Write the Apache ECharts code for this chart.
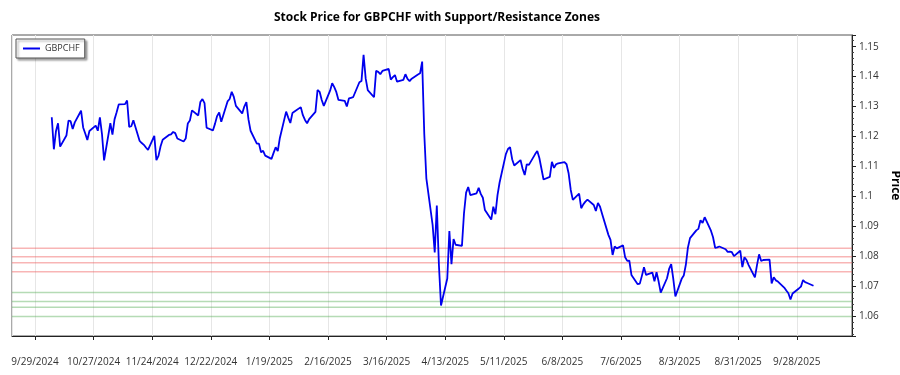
<!DOCTYPE html>
<html><head><meta charset="utf-8">
<script src="https://cdn.jsdelivr.net/npm/echarts@6/dist/echarts.min.js"></script>
<style>html,body{margin:0;padding:0;background:#fff}#c{width:900px;height:375px}</style>
</head><body><div id="c"></div>
<script>
const chartTitle = 'Stock Price for GBPCHF with Support/Resistance Zones';
const seriesName = 'GBPCHF';
const yAxisName = 'Price';
// trading days (Mon-Fri) from startDate to endDate
const startDate = '2024-10-07';
const endDate = '2025-10-06';
// x tick labels every 28 days from this date
const tickBaseDate = '2024-09-29';
const tickStepDays = 28;
const axisStartDays = -11.0;   // days before tickBaseDate at the left edge
const axisEndDays = 390.4;     // days after tickBaseDate at the right edge
const yMin = 1.0533, yMax = 1.1539, yStep = 0.01;

const prices = [
  1.1264,1.1157,1.1217,1.1244,1.1166,
  1.1203,1.1253,1.1251,1.1225,1.1247,
  1.1286,1.1230,1.1210,1.1188,1.1218,
  1.1236,1.1219,1.1264,1.1208,1.1120,
  1.1244,1.1206,1.1257,1.1281,1.1307,
  1.1308,1.1320,1.1232,1.1234,1.1254,
  1.1185,1.1178,1.1172,1.1163,1.1155,
  1.1202,1.1121,1.1135,1.1167,1.1189,
  1.1205,1.1207,1.1215,1.1211,1.1193,
  1.1183,1.1193,1.1243,1.1253,1.1287,
  1.1270,1.1315,1.1325,1.1311,1.1229,
  1.1220,1.1242,1.1268,1.1280,1.1249,
  1.1317,1.1325,1.1349,1.1332,1.1302,
  1.1277,1.1300,1.1315,1.1257,1.1219,
  1.1176,1.1176,1.1147,1.1152,1.1136,
  1.1125,1.1145,1.1164,1.1151,1.1195,
  1.1283,1.1263,1.1245,1.1278,1.1283,
  1.1298,1.1271,1.1255,1.1244,1.1258,
  1.1282,1.1355,1.1349,1.1322,1.1302,
  1.1353,1.1378,1.1365,1.1348,1.1322,
  1.1319,1.1300,1.1327,1.1329,1.1331,
  1.1381,1.1385,1.1473,1.1394,1.1355,
  1.1331,1.1419,1.1416,1.1408,1.1419,
  1.1426,1.1390,1.1398,1.1405,1.1383,
  1.1389,1.1408,1.1392,1.1385,1.1393,
  1.1407,1.1411,1.1450,1.1210,1.1060,
  1.0904,1.0812,1.0969,1.0771,1.0635,
  1.0725,1.0884,1.0773,1.0857,1.0838,
  1.0834,1.0944,1.1012,1.1031,1.1004,
  1.1010,1.1028,1.1008,1.0995,1.0954,
  1.0922,1.0965,1.0940,1.1004,1.1046,
  1.1141,1.1158,1.1164,1.1124,1.1103,
  1.1121,1.1092,1.1071,1.1107,1.1105,
  1.1141,1.1151,1.1128,1.1092,1.1056,
  1.1065,1.1115,1.1095,1.1107,1.1110,
  1.1114,1.1107,1.1076,1.1021,1.0988,
  1.1009,1.0960,1.0973,1.0982,1.0989,
  1.0971,1.0951,1.0978,1.0965,1.0941,
  1.0871,1.0854,1.0804,1.0832,1.0826,
  1.0836,1.0796,1.0784,1.0785,1.0737,
  1.0706,1.0708,1.0734,1.0763,1.0737,
  1.0745,1.0716,1.0746,1.0715,1.0678,
  1.0726,1.0757,1.0773,1.0724,1.0665,
  1.0724,1.0735,1.0771,1.0829,1.0860,
  1.0886,1.0891,1.0920,1.0911,1.0930,
  1.0885,1.0863,1.0828,1.0829,1.0832,
  1.0823,1.0814,1.0815,1.0813,1.0800,
  1.0818,1.0763,1.0796,1.0787,1.0770,
  1.0729,1.0770,1.0806,1.0784,1.0787,
  1.0788,1.0709,1.0729,1.0719,1.0715,
  1.0695,1.0685,1.0676,1.0655,1.0675,
  1.0692,1.0698,1.0720,1.0713,1.0710,
  1.0701
];
const resistanceLevels = [1.0826, 1.0798, 1.0778, 1.0748];
const supportLevels = [1.0678, 1.0648, 1.0629, 1.0598];

const DAY = 86400000;
function parseUTC(s){ const p = s.split('-').map(Number); return Date.UTC(p[0], p[1]-1, p[2]); }
const baseTs = parseUTC(tickBaseDate);
const tradingDays = [];
for (let t = parseUTC(startDate); t <= parseUTC(endDate); t += DAY) {
  const wd = new Date(t).getUTCDay();
  if (wd !== 0 && wd !== 6) tradingDays.push((t - baseTs) / DAY);
}
const lineData = tradingDays.map((d, i) => [d, prices[i]]);

function fmtDay(d){
  const dt = new Date(baseTs + Math.round(d) * DAY);
  return (dt.getUTCMonth()+1) + '/' + dt.getUTCDate() + '/' + dt.getUTCFullYear();
}

function zoneSeries(level, color){
  return {
    type: 'line', data: [[axisStartDays, level], [axisEndDays, level]],
    silent: true, showSymbol: false, symbol: 'none', z: 1,
    lineStyle: {color: color, width: 1.5}
  };
}

const FONT = 'Open Sans';
const chart = echarts.init(document.getElementById('c'), null, {renderer: 'canvas'});
chart.setOption({
  animation: false,
  backgroundColor: '#fff',
  title: {
    text: chartTitle, left: 432, top: 7, textAlign: 'center',
    textStyle: {fontFamily: FONT, fontSize: 12, fontWeight: 'bold', color: '#000'}
  },
  legend: {
    left: 16, top: 39, orient: 'vertical',
    data: [{name: seriesName, icon: 'rect'}],
    itemWidth: 17, itemHeight: 2, itemGap: 5,
    padding: [5, 5, 5, 7],
    backgroundColor: '#fff', borderColor: '#555', borderWidth: 1,
    shadowColor: 'rgba(0,0,0,0.35)', shadowBlur: 2, shadowOffsetX: 2, shadowOffsetY: 2,
    textStyle: {fontFamily: FONT, fontSize: 9, color: '#333', padding: [0,0,0,0]}
  },
  grid: {left: 12, right: 48, top: 35, bottom: 39, outerBoundsMode: 'none', containLabel: false,
    show: true, borderColor: '#555', borderWidth: 1, backgroundColor: 'transparent'},
  xAxis: {
    type: 'value', min: axisStartDays, max: axisEndDays,
    minInterval: tickStepDays, maxInterval: tickStepDays, splitNumber: 14,
    axisLine: {show: true, onZero: false, lineStyle: {color: '#222', width: 1}},
    axisTick: {show: true, length: 4, lineStyle: {color: '#222'}},
    axisLabel: {fontFamily: FONT, fontSize: 10, color: '#333', margin: 21, formatter: fmtDay, showMinLabel: false, showMaxLabel: false},
    splitLine: {show: true, lineStyle: {color: '#e6e6e6', width: 1}}
  },
  yAxis: {
    type: 'value', position: 'right', min: yMin, max: yMax,
    minInterval: yStep, maxInterval: yStep, splitNumber: 10,
    name: yAxisName, nameLocation: 'middle', nameRotate: -90, nameGap: 31,
    nameTextStyle: {fontFamily: FONT, fontSize: 12, fontWeight: 'bold', color: '#000'},
    axisLine: {show: true, onZero: false, lineStyle: {color: '#222', width: 1}},
    axisTick: {show: true, length: 4, lineStyle: {color: '#222'}},
    minorTick: {show: true, splitNumber: 5, length: 2, lineStyle: {color: '#444'}},
    axisLabel: {fontFamily: FONT, fontSize: 10, color: '#333', margin: 7, showMinLabel: false, showMaxLabel: false,
      formatter: v => String(+v.toFixed(4))},
    splitLine: {show: false}
  },
  series: [
    ...resistanceLevels.map(v => zoneSeries(v, 'rgba(240,90,90,0.45)')),
    ...supportLevels.map(v => zoneSeries(v, 'rgba(90,175,90,0.45)')),
    {
      type: 'line', name: seriesName, data: lineData, z: 3,
      showSymbol: false, symbol: 'none',
      lineStyle: {color: '#0000ee', width: 1.8},
      itemStyle: {color: '#0000ee'}
    }
  ]
});
</script></body></html>
